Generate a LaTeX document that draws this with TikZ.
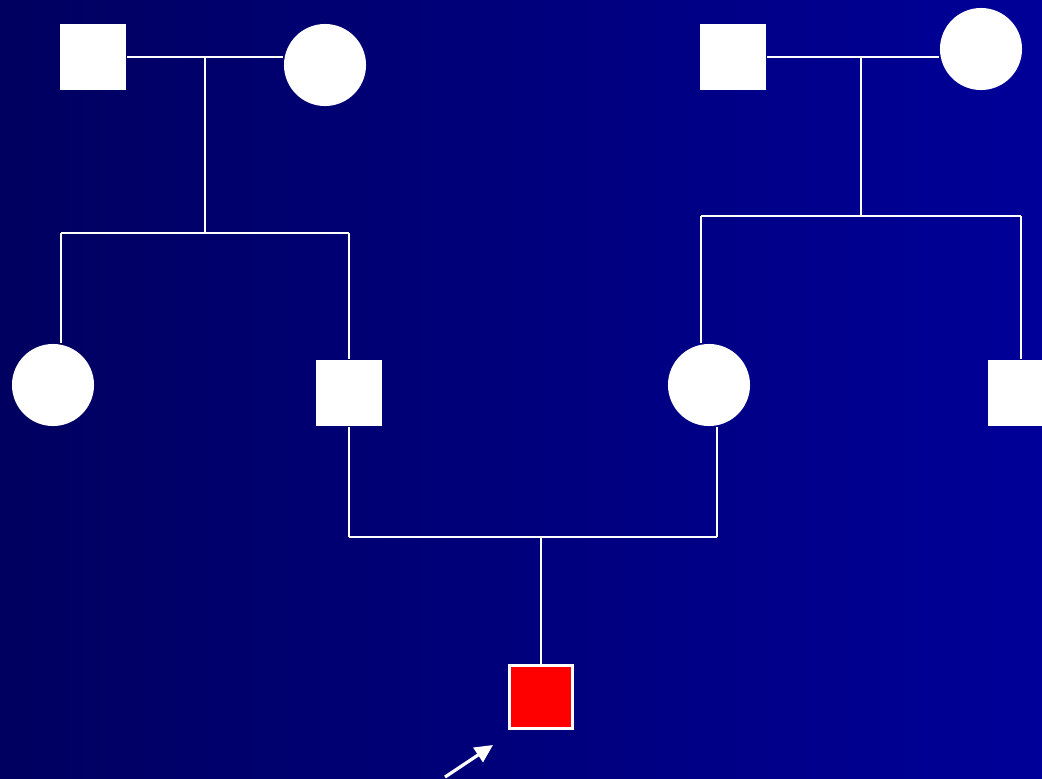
\documentclass[tikz,border=0pt]{standalone}
\usepackage{xcolor}
\usepackage{tikz}
\usetikzlibrary{arrows.meta, positioning}

\definecolor{bgleft}{RGB}{0,0,96}
\definecolor{bgright}{RGB}{0,0,152}

\begin{document}
\begin{tikzpicture}[x=0.01cm, y=-0.01cm,
    male/.style={draw=none, fill=white, minimum size=0.66cm, inner sep=0pt},
    female/.style={circle, draw=none, fill=white, minimum size=0.82cm, inner sep=0pt},
    proband/.style={draw=white, fill=red, line width=0.6pt, minimum size=0.63cm, inner sep=0pt},
    link/.style={white, line width=0.6pt}]
        % Background
        \useasboundingbox (0,0) rectangle (1042,778);
        \clip (0,0) rectangle (1042,778);
        \fill[left color=bgleft, right color=bgright] (0,0) rectangle (1042,778);
        % Grandparents
        \node[male] (gfl) at (93,57) {};
        \node[female] (gml) at (325,65) {};
        \node[male] (gfr) at (733,57) {};
        \node[female] (gmr) at (981,49) {};
        % Parents' generation
        \node[female] (aunt) at (53,385) {};
        \node[male] (father) at (349,393) {};
        \node[female] (mother) at (709,385) {};
        \node[male] (uncle) at (1021,393) {};
        % Proband
        \node[proband] (child) at (541,697) {};
        % Left couple and sibship
        \coordinate (ml) at (205,57);
        \coordinate (sl) at (205,233);
        \coordinate (sll) at (61,233);
        \coordinate (slr) at (349,233);
        \draw[link] (gfl.east) -- (gml.west |- gfl.east);
        \draw[link] (ml) -- (sl);
        \draw[link] (sll) -- (slr);
        \draw[link] (sll) -- (sll |- aunt.north);
        \draw[link] (slr) -- (father.north);
        % Right couple and sibship
        \coordinate (mr) at (861,57);
        \coordinate (sr) at (861,216);
        \coordinate (srl) at (701,216);
        \coordinate (srr) at (1021,216);
        \draw[link] (gfr.east) -- (gmr.west |- gfr.east);
        \draw[link] (mr) -- (sr);
        \draw[link] (srl) -- (srr);
        \draw[link] (srl) -- (srl |- mother.north);
        \draw[link] (srr) -- (uncle.north);
        % Parents of proband
        \coordinate (pl) at (349,537);
        \coordinate (pr) at (717,537);
        \coordinate (pm) at (541,537);
        \draw[link] (father.south) -- (pl);
        \draw[link] (pr |- mother.south) -- (pr);
        \draw[link] (pl) -- (pr);
        \draw[link] (pm) -- (child.north);
        % Proband arrow
        \coordinate (ptail) at (445,777);
        \coordinate (ptip) at (493,745);
        \draw[white, line width=0.9pt, -{Triangle[length=0.18cm, width=0.17cm]}] (ptail) -- (ptip);
      \end{tikzpicture}
\end{document}
